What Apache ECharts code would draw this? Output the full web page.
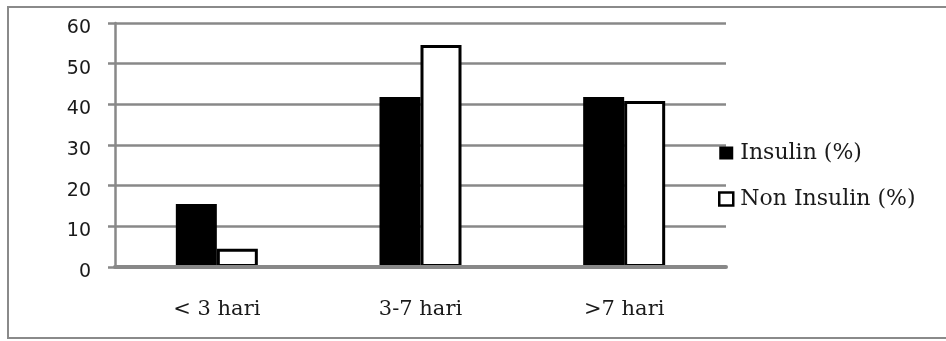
<!DOCTYPE html>
<html>
<head>
<meta charset="utf-8">
<script src="https://cdn.jsdelivr.net/npm/echarts@6/dist/echarts.min.js"></script>
<style>
  html, body { margin: 0; padding: 0; background: #fff; }
  #chart { width: 946px; height: 341px; }
</style>
</head>
<body>
<div id="chart"></div>
<script>
// Duration categories and the share (%) of each patient group
const categories = ['< 3 hari', '3-7 hari', '>7 hari'];
const insulin = [15.5, 41.8, 41.8];
const nonInsulin = [4.5, 54.6, 40.8];
const seriesNames = ['Insulin (%)', 'Non Insulin (%)'];

const gridColor = '#888888';
const serifFont = '"DejaVu Serif", "Liberation Serif", serif';
const sansFont = '"DejaVu Sans", "Liberation Sans", sans-serif';

const chart = echarts.init(document.getElementById('chart'));
chart.setOption({
  backgroundColor: '#ffffff',
  animation: false,
  graphic: [{
    type: 'rect',
    shape: { x: 8, y: 7, width: 960, height: 331 },
    style: { fill: 'none', stroke: '#8a8a8a', lineWidth: 2 },
    silent: true
  }],
  grid: { left: 115, right: 220, top: 23, bottom: 74, containLabel: false },
  legend: {
    orient: 'vertical',
    left: 713,
    top: 137,
    itemWidth: 14,
    itemHeight: 13,
    itemGap: 24,
    textStyle: { fontFamily: serifFont, fontSize: 22, color: '#1a1a1a', padding: [0, 0, 0, 2] },
    data: [
      { name: seriesNames[0], icon: 'rect', itemStyle: { color: '#000', borderWidth: 0 } },
      { name: seriesNames[1], icon: 'rect', itemStyle: { color: '#fff', borderColor: '#000', borderWidth: 2.5 } }
    ]
  },
  xAxis: {
    type: 'category',
    data: categories,
    z: 10,
    axisLine: { show: true, lineStyle: { color: gridColor, width: 4 } },
    axisTick: { show: false },
    axisLabel: { margin: 32, fontFamily: serifFont, fontSize: 21, color: '#1a1a1a' },
    splitLine: { show: false }
  },
  yAxis: {
    type: 'value',
    min: 0,
    max: 60,
    interval: 10,
    axisLine: { show: true, lineStyle: { color: gridColor, width: 2.5 } },
    axisTick: { show: true, inside: false, length: 7, lineStyle: { color: gridColor, width: 2.5 } },
    axisLabel: {
      margin: 24,
      formatter: function (v) { return '{t|' + v + '}'; },
      rich: {
        t: { fontFamily: sansFont, fontSize: 19, color: '#1a1a1a', padding: [10, 0, 0, 0] }
      }
    },
    splitLine: { show: true, lineStyle: { color: gridColor, width: 2.5 } }
  },
  series: [
    {
      name: seriesNames[0],
      type: 'bar',
      data: insulin,
      barWidth: 41,
      barGap: '0%',
      itemStyle: { color: '#000000' }
    },
    {
      name: seriesNames[1],
      type: 'bar',
      data: nonInsulin,
      barWidth: 41,
      barGap: '0%',
      itemStyle: { color: '#ffffff', borderColor: '#000000', borderWidth: 3 }
    }
  ]
});
</script>
</body>
</html>
